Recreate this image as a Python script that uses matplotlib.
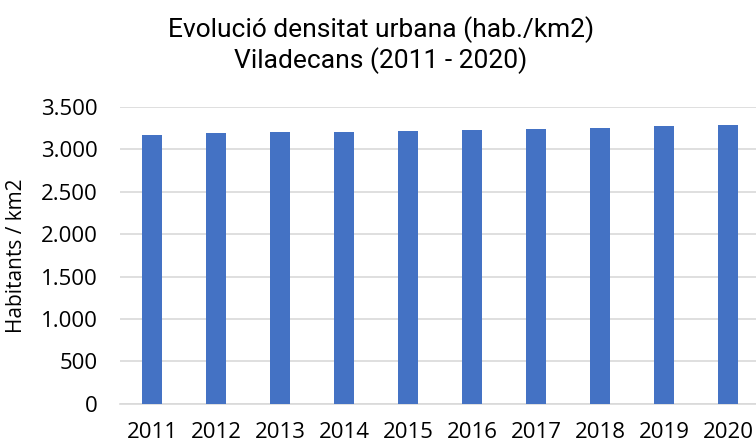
import numpy as np
import matplotlib.pyplot as plt
from matplotlib.ticker import FuncFormatter

# dades
anys = ['2011', '2012', '2013', '2014', '2015', '2016', '2017', '2018', '2019', '2020']
densitat = [3169, 3192, 3208, 3200, 3216, 3224, 3240, 3248, 3271, 3290]

fig = plt.figure(figsize=(7.56, 4.45), dpi=100)
ax = fig.add_axes([0.1587, 0.0928, 0.8466, 0.6668])

x = np.arange(len(anys))
ax.bar(x, densitat, width=0.32, color='#4472C4', zorder=3)

ax.set_xlim(-0.5, 9.5)
ax.set_ylim(0, 3500)
ax.set_yticks(np.arange(0, 3501, 500))
ax.yaxis.set_major_formatter(FuncFormatter(lambda v, p: f'{int(v):,}'.replace(',', '.')))
ax.set_xticks(x)
ax.set_xticklabels(anys)

ax.grid(axis='y', color='#d9d9d9', linewidth=1.2, zorder=0)
for s in ['top', 'right', 'left']:
    ax.spines[s].set_visible(False)
ax.spines['bottom'].set_color('#d9d9d9')
ax.spines['bottom'].set_linewidth(1.2)
ax.tick_params(axis='both', length=0, labelsize=16, colors='black')
ax.tick_params(axis='y', pad=16)
ax.tick_params(axis='x', pad=13)
for lbl in ax.get_xticklabels() + ax.get_yticklabels():
    lbl.set_family('Open Sans')

ax.set_ylabel('Habitants / km2', fontsize=15, family='Open Sans')
ax.yaxis.set_label_coords(-0.145, 0.5)

fig.text(0.504, 0.899, 'Evolució densitat urbana (hab./km2)\nViladecans (2011 - 2020)',
         ha='center', va='center', fontsize=19, family='Roboto', linespacing=1.2)

fig.savefig('out.png', dpi=100)
